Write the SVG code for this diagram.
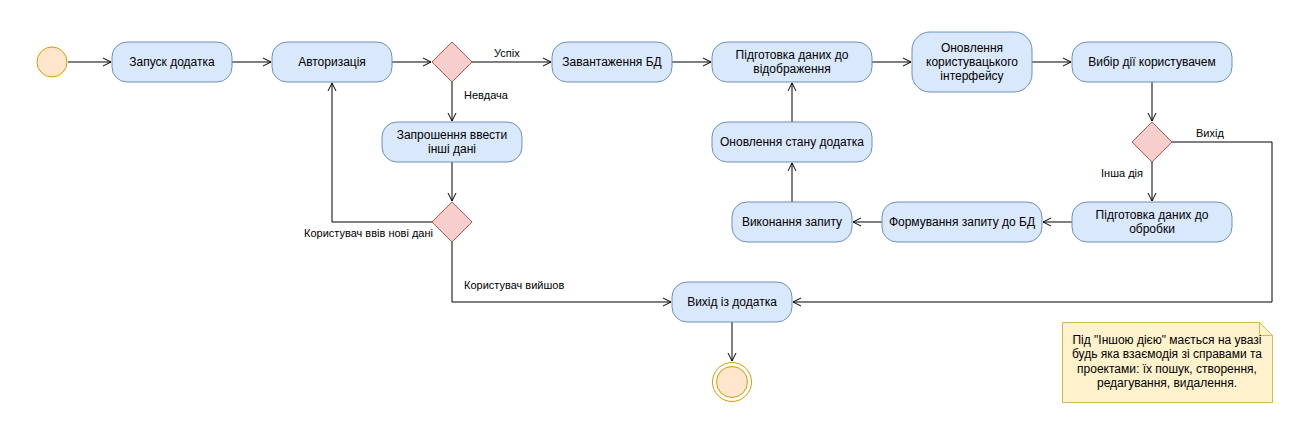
<svg xmlns="http://www.w3.org/2000/svg" width="1315" height="435" viewBox="0 0 1315 435">
<defs>
<marker id="open" viewBox="0 0 10 10" refX="9" refY="5" markerWidth="10" markerHeight="10" markerUnits="userSpaceOnUse" orient="auto">
<path d="M1,1 L9,5 L1,9" fill="none" stroke="#000" stroke-width="1"/>
</marker>
<style>
.n{fill:#dae8fc;stroke:#6c8ebf;stroke-width:1}
.d{fill:#f8cecc;stroke:#b85450;stroke-width:1}
.t{font-family:"Liberation Sans",Arial,sans-serif;font-size:12px;fill:#000;text-anchor:middle}
.l{font-family:"Liberation Sans",Arial,sans-serif;font-size:11px;fill:#000}
.c{fill:none;stroke:#000;stroke-width:1;marker-end:url(#open)}
</style>
</defs>
<rect width="1315" height="435" fill="#fff"/>
<g id="connectors">
<path class="c" d="M68,62 L111,62"/>
<path class="c" d="M232,62 L271,62"/>
<path class="c" d="M392,62 L431,62"/>
<path class="c" d="M472,62 L551,62"/>
<path class="c" d="M452,82 L452,121"/>
<path class="c" d="M452,162 L452,201"/>
<path class="c" d="M432,222 L332,222 L332,83"/>
<path class="c" d="M452,242 L452,302 L671,302"/>
<path class="c" d="M672,62 L711,62"/>
<path class="c" d="M872,62 L911,62"/>
<path class="c" d="M1032,62 L1071,62"/>
<path class="c" d="M1152,82 L1152,121"/>
<path class="c" d="M1152,162 L1152,201"/>
<path class="c" d="M1172,142 L1272,142 L1272,302 L793,302"/>
<path class="c" d="M1072,222 L1043,222"/>
<path class="c" d="M882,222 L853,222"/>
<path class="c" d="M792,202 L792,163"/>
<path class="c" d="M792,122 L792,83"/>
<path class="c" d="M732,322 L732,361"/>
<text class="l" x="494" y="57">Успіх</text>
<text class="l" x="464" y="99">Невдача</text>
<text class="l" x="433" y="237" text-anchor="end">Користувач ввів нові дані</text>
<text class="l" x="464" y="289">Користувач вийшов</text>
<text class="l" x="1196" y="137">Вихід</text>
<text class="l" x="1101" y="177">Інша дія</text>
</g>
<g id="start"><circle cx="52" cy="62" r="15" fill="#ffe6cc" stroke="#d79b00"/></g>
<g id="n1"><rect class="n" x="112" y="42" width="120" height="40" rx="15"/><text class="t" x="172" y="66">Запуск додатка</text></g>
<g id="n2"><rect class="n" x="272" y="42" width="120" height="40" rx="15"/><text class="t" x="332" y="66">Авторизація</text></g>
<g id="d1"><path class="d" d="M452,42 L472,62 L452,82 L432,62 Z"/></g>
<g id="n3"><rect class="n" x="552" y="42" width="120" height="40" rx="15"/><text class="t" x="612" y="66">Завантаження БД</text></g>
<g id="n4"><rect class="n" x="712" y="42" width="160" height="40" rx="15"/><text class="t" x="792" y="59">Підготовка даних до</text><text class="t" x="792" y="73">відображення</text></g>
<g id="n5"><rect class="n" x="912" y="32" width="120" height="60" rx="18"/><text class="t" x="972" y="52">Оновлення</text><text class="t" x="972" y="66">користувацького</text><text class="t" x="972" y="80">інтерфейсу</text></g>
<g id="n6"><rect class="n" x="1072" y="42" width="160" height="40" rx="15"/><text class="t" x="1152" y="66">Вибір дії користувачем</text></g>
<g id="d2"><path class="d" d="M1152,122 L1172,142 L1152,162 L1132,142 Z"/></g>
<g id="n7"><rect class="n" x="1072" y="202" width="160" height="40" rx="15"/><text class="t" x="1152" y="219">Підготовка даних до</text><text class="t" x="1152" y="233">обробки</text></g>
<g id="n8"><rect class="n" x="882" y="202" width="160" height="40" rx="15"/><text class="t" x="962" y="226">Формування запиту до БД</text></g>
<g id="n9"><rect class="n" x="732" y="202" width="120" height="40" rx="15"/><text class="t" x="792" y="226">Виконання запиту</text></g>
<g id="n10"><rect class="n" x="712" y="122" width="160" height="40" rx="15"/><text class="t" x="792" y="146">Оновлення стану додатка</text></g>
<g id="n11"><rect class="n" x="382" y="122" width="140" height="40" rx="15"/><text class="t" x="452" y="139">Запрошення ввести</text><text class="t" x="452" y="153">інші дані</text></g>
<g id="d3"><path class="d" d="M452,202 L472,222 L452,242 L432,222 Z"/></g>
<g id="n12"><rect class="n" x="672" y="282" width="120" height="40" rx="15"/><text class="t" x="732" y="306">Вихід із додатка</text></g>
<g id="end"><circle cx="732" cy="382" r="19.5" fill="#fff" stroke="#d79b00"/><circle cx="732" cy="382" r="15.5" fill="#ffe6cc" stroke="#d79b00"/></g>
<g id="note"><path d="M1062.5,322.5 L1259.5,322.5 L1272.5,335.5 L1272.5,402.5 L1062.5,402.5 Z" fill="#fff2cc" stroke="#d6b656"/><path d="M1259.5,322.5 L1259.5,335.5 L1272.5,335.5" fill="none" stroke="#d6b656"/>
<text class="t" x="1167" y="344">Під "Іншою дією" мається на увазі</text>
<text class="t" x="1167" y="358">будь яка взаємодія зі справами та</text>
<text class="t" x="1167" y="373">проектами: їх пошук, створення,</text>
<text class="t" x="1167" y="387">редагування, видалення.</text>
</g>
</svg>
